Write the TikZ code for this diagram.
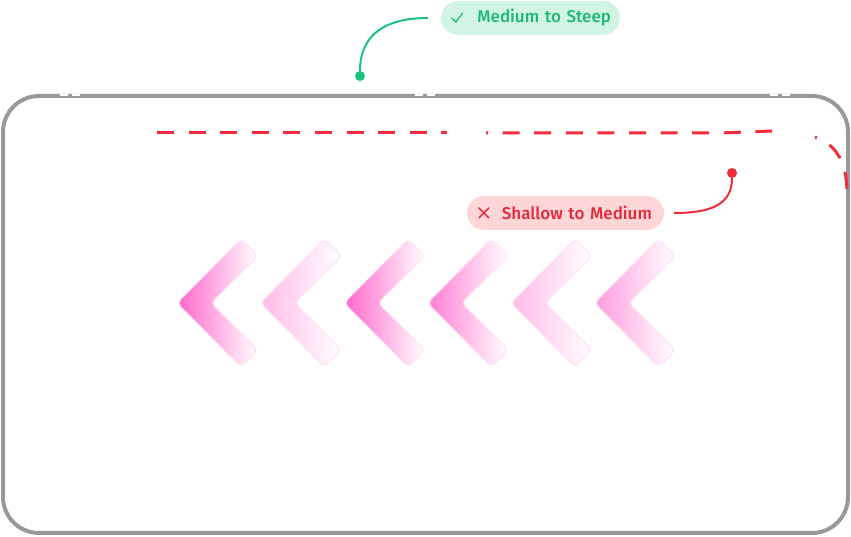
\documentclass[tikz,border=0pt]{standalone}
\usepackage{fontspec}
\IfFontExistsTF{Fira Sans Medium}{\newfontfamily\labelfont{Fira Sans Medium}}{\newfontfamily\labelfont{Fira Sans}}
\usetikzlibrary{calc}

\definecolor{framegray}{HTML}{999999}
\definecolor{steepgreen}{HTML}{1DB872}
\definecolor{steepline}{HTML}{19C47C}
\definecolor{steepfill}{HTML}{D2F5E3}
\definecolor{shallowred}{HTML}{E4283A}
\definecolor{shallowline}{HTML}{F42A3C}
\definecolor{shallowfill}{HTML}{FFD6D8}
\definecolor{chevpink}{HTML}{FF66CC}

\tikzset{
	pill/.style={rounded corners=17pt, inner xsep=9pt, inner ysep=0pt, minimum height=34pt, align=right, font=\labelfont\fontsize{17}{20}\selectfont},
	dot/.style={circle, inner sep=0pt, minimum size=10pt},
	redline/.style={shallowline, line width=3pt, dash pattern=on 17pt off 14.6pt},
	chevron/.style={draw=chevpink!22, line width=1pt, rounded corners=5pt},
}

\begin{document}
\begin{tikzpicture}[x=1pt, y=1pt]
			%%%%% START %%%%%
			\useasboundingbox (0, 0) rectangle (851, 537);
			
			\draw[framegray, line width=4pt, rounded corners=36pt] (3, 4) rectangle (848, 441);
			\foreach \m in {70, 425, 780} {
				\draw[white, line width=1.3pt] (\m-10, 442) -- (\m-2, 442) (\m+2, 442) -- (\m+10, 442);
			}
			
			\draw[redline] (157, 404) -- (447, 404);
			\draw[redline, dash phase=15pt] (486, 404) -- (720, 404) -- (772, 406);
			\draw[redline, dash phase=15pt] (815, 400) .. controls (838, 392) and (847, 372) .. (847, 344);
			
			\foreach \x/\c in {177/100, 260.5/45, 344/100, 427.5/85, 511/45, 594.5/65} {
				\shade[chevron, left color=chevpink!\c, right color=white]
					(\x, 234) -- ++(64, 64) -- ++(17, -17) -- ++(-47, -47) -- ++(47, -47) -- ++(-17, -17) -- cycle;
			}
			
			\node[pill, fill=steepfill, text=steepgreen, minimum width=179pt, text width=161pt] (steep) at (530.5, 519) {Medium to Steep};
			\draw[steepgreen, line width=1.2pt, line cap=round, line join=round] ($(steep.west)+(11, 0)$) -- ++(4, -4) -- ++(7, 9);
			\node[dot, fill=steepline] (steepdot) at (360, 461) {};
			\draw[steepline, line width=2pt] ([xshift=-13pt]steep.west) .. controls +(-43, 0) and +(0, 41) .. (steepdot);
			
			\node[pill, fill=shallowfill, text=shallowred, inner xsep=12pt, minimum width=197pt, text width=173pt] (shallow) at (565.5, 324) {Shallow to Medium};
			\draw[shallowred, line width=1.4pt, line cap=round] ($(shallow.west)+(12, -5)$) -- ++(10, 10) ++(-10, 0) -- ++(10, -10);
			\node[dot, fill=shallowline] (shallowdot) at (732, 364) {};
			\draw[shallowline, line width=2pt] ([xshift=10pt]shallow.east) .. controls +(36, 0) and +(0, -32) .. (shallowdot);
			%%%%% END %%%%%
\end{tikzpicture}
\end{document}
